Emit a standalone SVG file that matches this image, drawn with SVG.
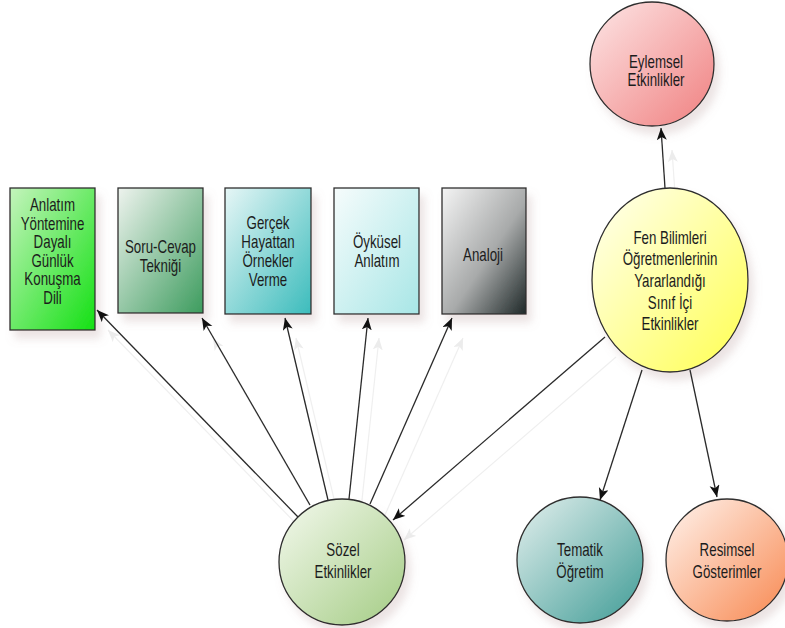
<svg xmlns="http://www.w3.org/2000/svg" width="785" height="628" viewBox="0 0 785 628">
<style>
.node{stroke:#2e2e2e;stroke-width:1.3}
.lbl{font-family:"Liberation Sans",Arial,sans-serif;font-size:18px;fill:#1c1c1c;text-anchor:middle}
.con{stroke:#2a2a2a;stroke-width:1.3;fill:none;marker-end:url(#ah)}
.sh{stroke:#efefef;stroke-width:1.2;fill:none;marker-end:url(#ahs)}
</style>
<defs>
<marker id="ah" markerUnits="userSpaceOnUse" markerWidth="14" markerHeight="12" refX="12" refY="5" orient="auto">
<path d="M0,0 L12,5 L0,10 L3,5 z" fill="#111"/>
</marker>
<marker id="ahs" markerUnits="userSpaceOnUse" markerWidth="14" markerHeight="12" refX="12" refY="5" orient="auto">
<path d="M0,0 L12,5 L0,10 L3,5 z" fill="#ececec"/>
</marker>
<filter id="ds" x="-20%" y="-20%" width="150%" height="150%">
<feDropShadow dx="5" dy="8" stdDeviation="4" flood-color="#b09090" flood-opacity="0.25"/>
</filter>
<linearGradient id="g1" x1="0" y1="0" x2="1" y2="1"><stop offset="0" stop-color="#c4f4bc"/><stop offset="1" stop-color="#14e014"/></linearGradient>
<linearGradient id="g2" x1="0" y1="0" x2="1" y2="1"><stop offset="0" stop-color="#eef3ee"/><stop offset="1" stop-color="#3d9c5e"/></linearGradient>
<linearGradient id="g3" x1="0" y1="0" x2="1" y2="1"><stop offset="0" stop-color="#e6f6f6"/><stop offset="1" stop-color="#3cbcbc"/></linearGradient>
<linearGradient id="g4" x1="0" y1="0" x2="1" y2="1"><stop offset="0" stop-color="#f6fcfc"/><stop offset="1" stop-color="#a8e6e6"/></linearGradient>
<linearGradient id="g5" x1="0" y1="0" x2="1" y2="1"><stop offset="0" stop-color="#f4f4f4"/><stop offset="0.55" stop-color="#a8aaaa"/><stop offset="1" stop-color="#1e2828"/></linearGradient>
<linearGradient id="ge" x1="0" y1="0" x2="1" y2="1"><stop offset="0" stop-color="#fde6e6"/><stop offset="1" stop-color="#f08080"/></linearGradient>
<linearGradient id="gf" x1="0" y1="0" x2="1" y2="1"><stop offset="0" stop-color="#fffff2"/><stop offset="1" stop-color="#ffff50"/></linearGradient>
<linearGradient id="gs" x1="0" y1="0" x2="1" y2="1"><stop offset="0" stop-color="#f4f9ee"/><stop offset="1" stop-color="#a4cc84"/></linearGradient>
<linearGradient id="gt" x1="0" y1="0" x2="1" y2="1"><stop offset="0" stop-color="#e4f0ee"/><stop offset="1" stop-color="#409c96"/></linearGradient>
<linearGradient id="gr" x1="0" y1="0" x2="1" y2="1"><stop offset="0" stop-color="#fff4ee"/><stop offset="1" stop-color="#f88850"/></linearGradient>
</defs>
<rect width="785" height="628" fill="#ffffff"/>

<g id="shadows">
<line class="sh" x1="309" y1="537" x2="108" y2="330"/>
<line class="sh" x1="321" y1="525" x2="213" y2="338"/>
<line class="sh" x1="339" y1="520" x2="296" y2="338"/>
<line class="sh" x1="360" y1="519" x2="379" y2="338"/>
<line class="sh" x1="381" y1="524" x2="463" y2="338"/>
<line class="sh" x1="616" y1="357" x2="404" y2="540"/>
<line class="sh" x1="676" y1="208" x2="672" y2="150"/>
</g>

<g id="n1" filter="url(#ds)"><rect class="node" x="10" y="188" width="85" height="142" fill="url(#g1)"/></g>
<g id="n2" filter="url(#ds)"><rect class="node" x="118" y="188" width="85" height="125" fill="url(#g2)"/></g>
<g id="n3" filter="url(#ds)"><rect class="node" x="225" y="188" width="86" height="126" fill="url(#g3)"/></g>
<g id="n4" filter="url(#ds)"><rect class="node" x="334" y="188" width="85" height="126" fill="url(#g4)"/></g>
<g id="n5" filter="url(#ds)"><rect class="node" x="442" y="188" width="84" height="126" fill="url(#g5)"/></g>
<g id="eylemsel" filter="url(#ds)"><circle class="node" cx="652" cy="64" r="62" fill="url(#ge)"/></g>
<g id="fen" filter="url(#ds)"><ellipse class="node" cx="670" cy="280" rx="78" ry="92" fill="url(#gf)"/></g>
<g id="sozel" filter="url(#ds)"><circle class="node" cx="342" cy="562" r="63" fill="url(#gs)"/></g>
<g id="tematik" filter="url(#ds)"><circle class="node" cx="580" cy="560" r="63" fill="url(#gt)"/></g>
<g id="resimsel" filter="url(#ds)"><circle class="node" cx="727" cy="560" r="61" fill="url(#gr)"/></g>

<g id="labels">
<g transform="translate(52.5,0) scale(0.74,1)">
<text class="lbl" x="0" y="211.5">Anlatım</text>
<text class="lbl" x="0" y="230">Yöntemine</text>
<text class="lbl" x="0" y="248.5">Dayalı</text>
<text class="lbl" x="0" y="267">Günlük</text>
<text class="lbl" x="0" y="285.5">Konuşma</text>
<text class="lbl" x="0" y="304">Dili</text>
</g>
<g transform="translate(160.5,0) scale(0.74,1)">
<text class="lbl" x="0" y="253.5">Soru-Cevap</text>
<text class="lbl" x="0" y="272">Tekniği</text>
</g>
<g transform="translate(268,0) scale(0.74,1)">
<text class="lbl" x="0" y="229.5">Gerçek</text>
<text class="lbl" x="0" y="248.5">Hayattan</text>
<text class="lbl" x="0" y="267.5">Örnekler</text>
<text class="lbl" x="0" y="286.5">Verme</text>
</g>
<g transform="translate(377,0) scale(0.74,1)">
<text class="lbl" x="0" y="248.5">Öyküsel</text>
<text class="lbl" x="0" y="267.5">Anlatım</text>
</g>
<g transform="translate(483,0) scale(0.74,1)">
<text class="lbl" x="0" y="261.5">Analoji</text>
</g>
<g transform="translate(656,0) scale(0.74,1)">
<text class="lbl" x="0" y="68">Eylemsel</text>
<text class="lbl" x="0" y="86.5">Etkinlikler</text>
</g>
<g transform="translate(670,0) scale(0.74,1)">
<text class="lbl" x="0" y="244.5">Fen Bilimleri</text>
<text class="lbl" x="0" y="265.5">Öğretmenlerinin</text>
<text class="lbl" x="0" y="287.5">Yararlandığı</text>
<text class="lbl" x="0" y="309.5">Sınıf İçi</text>
<text class="lbl" x="0" y="330.5">Etkinlikler</text>
</g>
<g transform="translate(343,0) scale(0.74,1)">
<text class="lbl" x="0" y="556.5">Sözel</text>
<text class="lbl" x="0" y="578.5">Etkinlikler</text>
</g>
<g transform="translate(580,0) scale(0.74,1)">
<text class="lbl" x="0" y="556.5">Tematik</text>
<text class="lbl" x="0" y="578.5">Öğretim</text>
</g>
<g transform="translate(727,0) scale(0.74,1)">
<text class="lbl" x="0" y="556.5">Resimsel</text>
<text class="lbl" x="0" y="578.5">Gösterimler</text>
</g>
</g>

<g id="connectors">
<line class="con" x1="298" y1="517" x2="97" y2="310"/>
<line class="con" x1="310" y1="505" x2="202" y2="318"/>
<line class="con" x1="328" y1="500" x2="285" y2="318"/>
<line class="con" x1="349" y1="499" x2="368" y2="318"/>
<line class="con" x1="370" y1="504" x2="452" y2="318"/>
<line class="con" x1="605" y1="337" x2="393" y2="520"/>
<line class="con" x1="642" y1="370" x2="600" y2="500"/>
<line class="con" x1="690" y1="370" x2="717" y2="497"/>
<line class="con" x1="665" y1="188" x2="661" y2="128"/>
</g>
</svg>
